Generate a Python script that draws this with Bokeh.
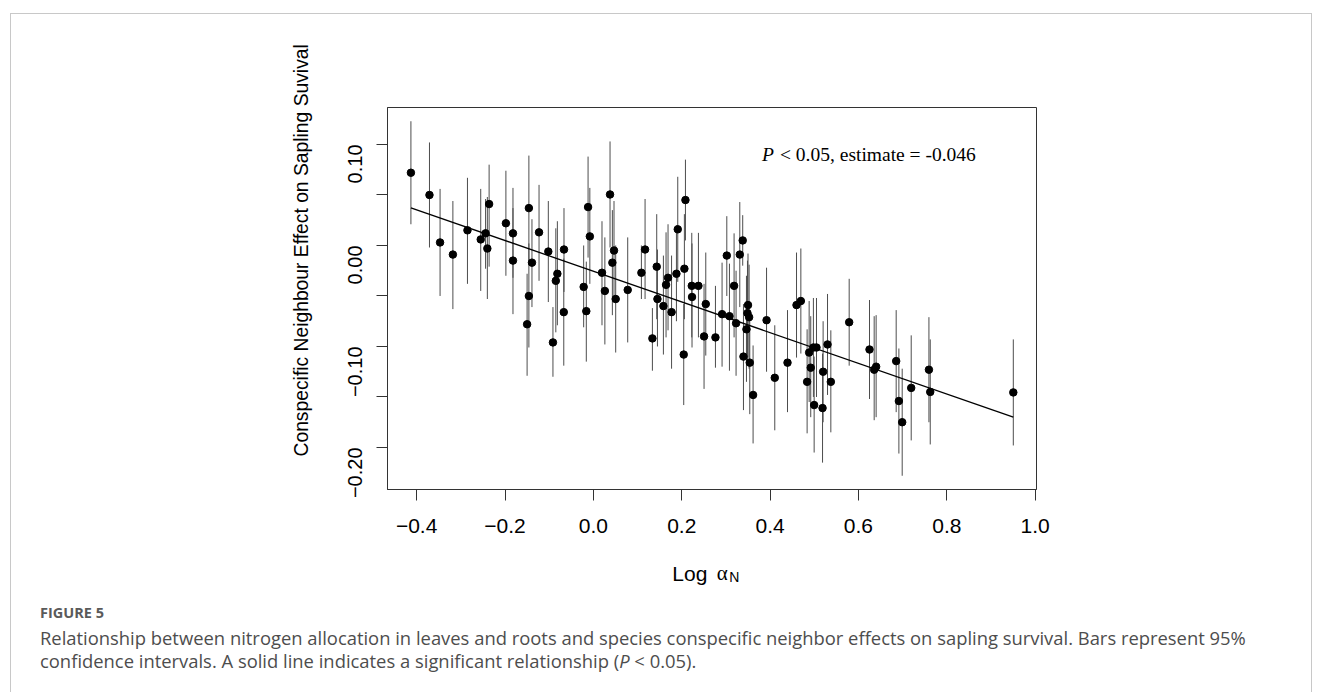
import math
from bokeh.plotting import figure
from bokeh.layouts import column
from bokeh.models import (Range1d, FixedTicker, CustomJSTickFormatter, Label, Title, Div,
                          ColumnDataSource)
from bokeh.embed import file_html
from bokeh.resources import INLINE

# ---------------- data ----------------
log_alpha_n = [-0.413, -0.371, -0.347, -0.318, -0.285, -0.255, -0.244, -0.236, -0.240, -0.198,
               -0.182, -0.182, -0.146, -0.139, -0.146, -0.150, -0.123, -0.102, -0.0815, -0.085,
               -0.0915, -0.0665, -0.067, -0.022, -0.016, -0.012, -0.008, 0.0195, 0.026, 0.0377,
               0.043, 0.0467, 0.0505, 0.0777, 0.1087, 0.117, 0.1336, 0.1434, 0.145, 0.1585,
               0.1645, 0.169, 0.177, 0.188, 0.191, 0.2045, 0.206, 0.2084, 0.2227, 0.2233,
               0.2378, 0.2505, 0.2544, 0.2763, 0.2913, 0.302, 0.308, 0.3185, 0.323, 0.3314,
               0.338, 0.3397, 0.3465, 0.350, 0.3488, 0.3525, 0.354, 0.3615, 0.392, 0.4106,
               0.4394, 0.4598, 0.4696, 0.4838, 0.4884, 0.492, 0.498, 0.4997, 0.505, 0.5187,
               0.520, 0.530, 0.5375, 0.579, 0.625, 0.6356, 0.640, 0.6854, 0.6915, 0.699,
               0.7194, 0.7595, 0.7625, 0.9505]
neighbour_effect = [0.072, 0.050, 0.003, -0.009, 0.015, 0.006, 0.012, 0.041, -0.003, 0.022,
                    0.012, -0.015, 0.037, -0.017, -0.050, -0.078, 0.013, -0.006, -0.028, -0.035,
                    -0.096, -0.004, -0.066, -0.041, -0.065, 0.038, 0.009, -0.027, -0.045, 0.0505,
                    -0.017, -0.005, -0.053, -0.044, -0.027, -0.004, -0.092, -0.021, -0.053, -0.060,
                    -0.039, -0.032, -0.066, -0.028, 0.016, -0.108, -0.023, 0.045, -0.040, -0.051,
                    -0.040, -0.090, -0.058, -0.091, -0.068, -0.010, -0.070, -0.040, -0.077, -0.009,
                    0.005, -0.110, -0.083, -0.059, -0.067, -0.071, -0.116, -0.148, -0.074, -0.131,
                    -0.116, -0.059, -0.055, -0.135, -0.106, -0.121, -0.101, -0.158, -0.101, -0.161,
                    -0.125, -0.098, -0.135, -0.076, -0.103, -0.123, -0.120, -0.1145, -0.154, -0.175,
                    -0.141, -0.123, -0.145, -0.1455]
ci_low = [0.021, -0.002, -0.050, -0.063, -0.038, -0.045, -0.023, -0.021, -0.053, -0.030,
          -0.032, -0.068, -0.015, -0.061, -0.101, -0.129, -0.035, -0.056, -0.079, -0.086,
          -0.130, -0.046, -0.119, -0.081, -0.115, -0.012, -0.038, -0.079, -0.098, -0.002,
          -0.069, -0.056, -0.106, -0.096, -0.053, -0.053, -0.124, -0.073, -0.100, -0.108,
          -0.091, -0.084, -0.122, -0.075, -0.036, -0.158, -0.073, 0.005, -0.091, -0.101,
          -0.091, -0.142, -0.109, -0.121, -0.120, -0.050, -0.124, -0.091, -0.129, -0.061,
          -0.020, -0.163, -0.135, -0.111, -0.118, -0.122, -0.167, -0.196, -0.125, -0.183,
          -0.165, -0.111, -0.107, -0.186, -0.155, -0.170, -0.150, -0.205, -0.150, -0.215,
          -0.175, -0.148, -0.185, -0.119, -0.152, -0.173, -0.170, -0.165, -0.206, -0.228,
          -0.193, -0.175, -0.197, -0.198]
ci_high = [0.123, 0.102, 0.056, 0.044, 0.067, 0.056, 0.046, 0.080, 0.048, 0.074,
           0.057, 0.037, 0.089, 0.026, 0.002, -0.028, 0.060, 0.044, 0.024, 0.017,
           -0.061, 0.037, -0.013, 0.000, -0.016, 0.088, 0.057, 0.024, 0.008, 0.103,
           0.035, 0.044, 0.000, 0.008, 0.000, 0.046, -0.062, 0.031, -0.004, -0.010,
           0.013, 0.021, -0.010, 0.020, 0.068, -0.058, 0.031, 0.085, 0.0125, 0.002,
           0.0125, -0.038, -0.007, -0.040, -0.017, 0.029, -0.018, 0.012, -0.025, 0.043,
           0.030, -0.058, -0.030, -0.008, -0.015, -0.019, -0.064, -0.099, -0.022, -0.079,
           -0.064, -0.007, -0.003, -0.083, -0.055, -0.070, -0.052, -0.110, -0.052, -0.107,
           -0.075, -0.048, -0.084, -0.033, -0.054, -0.070, -0.069, -0.064, -0.102, -0.122,
           -0.089, -0.071, -0.093, -0.093]
fit_intercept = -0.0255
fit_slope = -0.152

x_ticks = [-0.4, -0.2, 0.0, 0.2, 0.4, 0.6, 0.8, 1.0]
y_ticks_major = [-0.20, -0.10, 0.0, 0.10]
y_ticks_minor = [-0.15, -0.05, 0.05]

annotation_text = "< 0.05, estimate = -0.046"
y_title = "Conspecific Neighbour Effect on Sapling Suvival"
x_title = "Log"
x_title_symbol = "\u03b1"
x_title_sub = "N"
caption_head = "FIGURE 5"
caption_line1 = ("Relationship between nitrogen allocation in leaves and roots and species "
                 "conspecific neighbor effects on sapling survival. Bars represent 95%")
caption_line2a = "confidence intervals. A solid line indicates a significant relationship ("
caption_line2b = " &lt; 0.05)."

# ---------------- layout constants (page pixels) ----------------
W = 1322
FIG_H = 550
CAP_H = 692 - FIG_H
FL, FR, FT, FB = 387, 1036, 107, 489   # frame edges

p = figure(width=W, height=FIG_H, output_backend="svg", toolbar_location=None,
           x_range=Range1d(-0.466, 1.003), y_range=Range1d(-0.2416, 0.1366),
           min_border_left=FL, min_border_right=W - FR,
           min_border_top=FT, min_border_bottom=FIG_H - FB,
           background_fill_color="white", border_fill_color=None)
p.xgrid.visible = False
p.ygrid.visible = False
p.outline_line_color = "#333333"
p.outline_line_width = 1

for ax in (p.xaxis[0], p.yaxis[0]):
    ax.axis_line_color = "#333333"
    ax.major_tick_line_color = "#333333"
    ax.minor_tick_line_color = "#333333"
    ax.major_tick_out = 11
    ax.major_tick_in = 0
    ax.minor_tick_out = 11
    ax.minor_tick_in = 0
    ax.major_label_text_font = "Liberation Sans"
    ax.major_label_text_color = "black"

p.xaxis.ticker = FixedTicker(ticks=x_ticks)
p.xaxis.formatter = CustomJSTickFormatter(code="return tick.toFixed(1).replace('-', '\u2212');")
p.xaxis.major_label_text_font_size = "21px"
p.xaxis.major_label_standoff = 18

p.yaxis.ticker = FixedTicker(ticks=y_ticks_major, minor_ticks=y_ticks_minor)
p.yaxis.formatter = CustomJSTickFormatter(code="return tick.toFixed(2).replace('-', '\u2212');")
p.yaxis.major_label_text_font_size = "20px"
p.yaxis.major_label_orientation = math.pi / 2
p.yaxis.major_label_standoff = 21

src = ColumnDataSource(dict(x=log_alpha_n, y=neighbour_effect, lo=ci_low, hi=ci_high))
p.segment(x0="x", y0="lo", x1="x", y1="hi", source=src, line_color="#4d4d4d", line_width=1)
p.scatter("x", "y", source=src, size=7.5, color="black")

fx = [min(log_alpha_n), max(log_alpha_n)]
fy = [fit_intercept + fit_slope * v for v in fx]
p.line(fx, fy, line_color="black", line_width=1.3)

# in-plot annotation
for txt, cx, style in (("P", 761.5, "italic"), (annotation_text, 779.5, "normal")):
    p.add_layout(Label(x=cx - FL, y=FB - 154, x_units="screen", y_units="screen",
                       text=txt, text_font="Liberation Serif", text_font_size="19.5px",
                       text_font_style=style, text_color="black",
                       text_baseline="alphabetic"))

# y-axis title (left side panel)
p.add_layout(Title(text=y_title, align="left", offset=33, standoff=53,
                   text_font="Liberation Sans", text_font_size="19.3px",
                   text_font_style="normal", text_color="black"), "left")


def span(text, left, top, size, font, color="#000", extra=""):
    return (f'<span style="position:absolute;left:{left}px;top:{top}px;font-family:\'{font}\';'
            f'font-size:{size}px;line-height:{size}px;color:{color};white-space:nowrap;{extra}">'
            f'{text}</span>')


cap_color = "#4d4d4d"
html = ('<div style="position:relative;width:1322px;height:%dpx;margin:0;padding:0;">' % CAP_H
        + span(x_title, 672.3, 12.9, 21, "Liberation Sans")
        + span(x_title_symbol, 716.7, 13.1, 21, "Liberation Serif")
        + span(x_title_sub, 729.3, 19.85, 14, "Liberation Sans")
        + span(caption_head, 40, 56.4, 14.5, "Open Sans", "#5a5a5a", "font-weight:700;")
        + span(caption_line1, 40, 79.4, 18.4, "Open Sans", cap_color)
        + span(caption_line2a + "<i>P</i>" + caption_line2b, 40, 102.0, 18.4, "Open Sans",
               cap_color)
        + '</div>')
cap = Div(text=html, width=W, height=CAP_H, margin=0)

border_css = {
    "background-image": ("linear-gradient(#c8c8c8,#c8c8c8), linear-gradient(#c8c8c8,#c8c8c8), "
                         "linear-gradient(#c8c8c8,#c8c8c8)"),
    "background-size": "1302px 1px, 1px 700px, 1px 700px",
    "background-position": "10px 13px, 10px 13px, 1311px 13px",
    "background-repeat": "no-repeat",
    "background-color": "white",
}
layout = column(p, cap, spacing=0, styles=border_css)

open("out.html", "w").write(file_html(layout, INLINE))
